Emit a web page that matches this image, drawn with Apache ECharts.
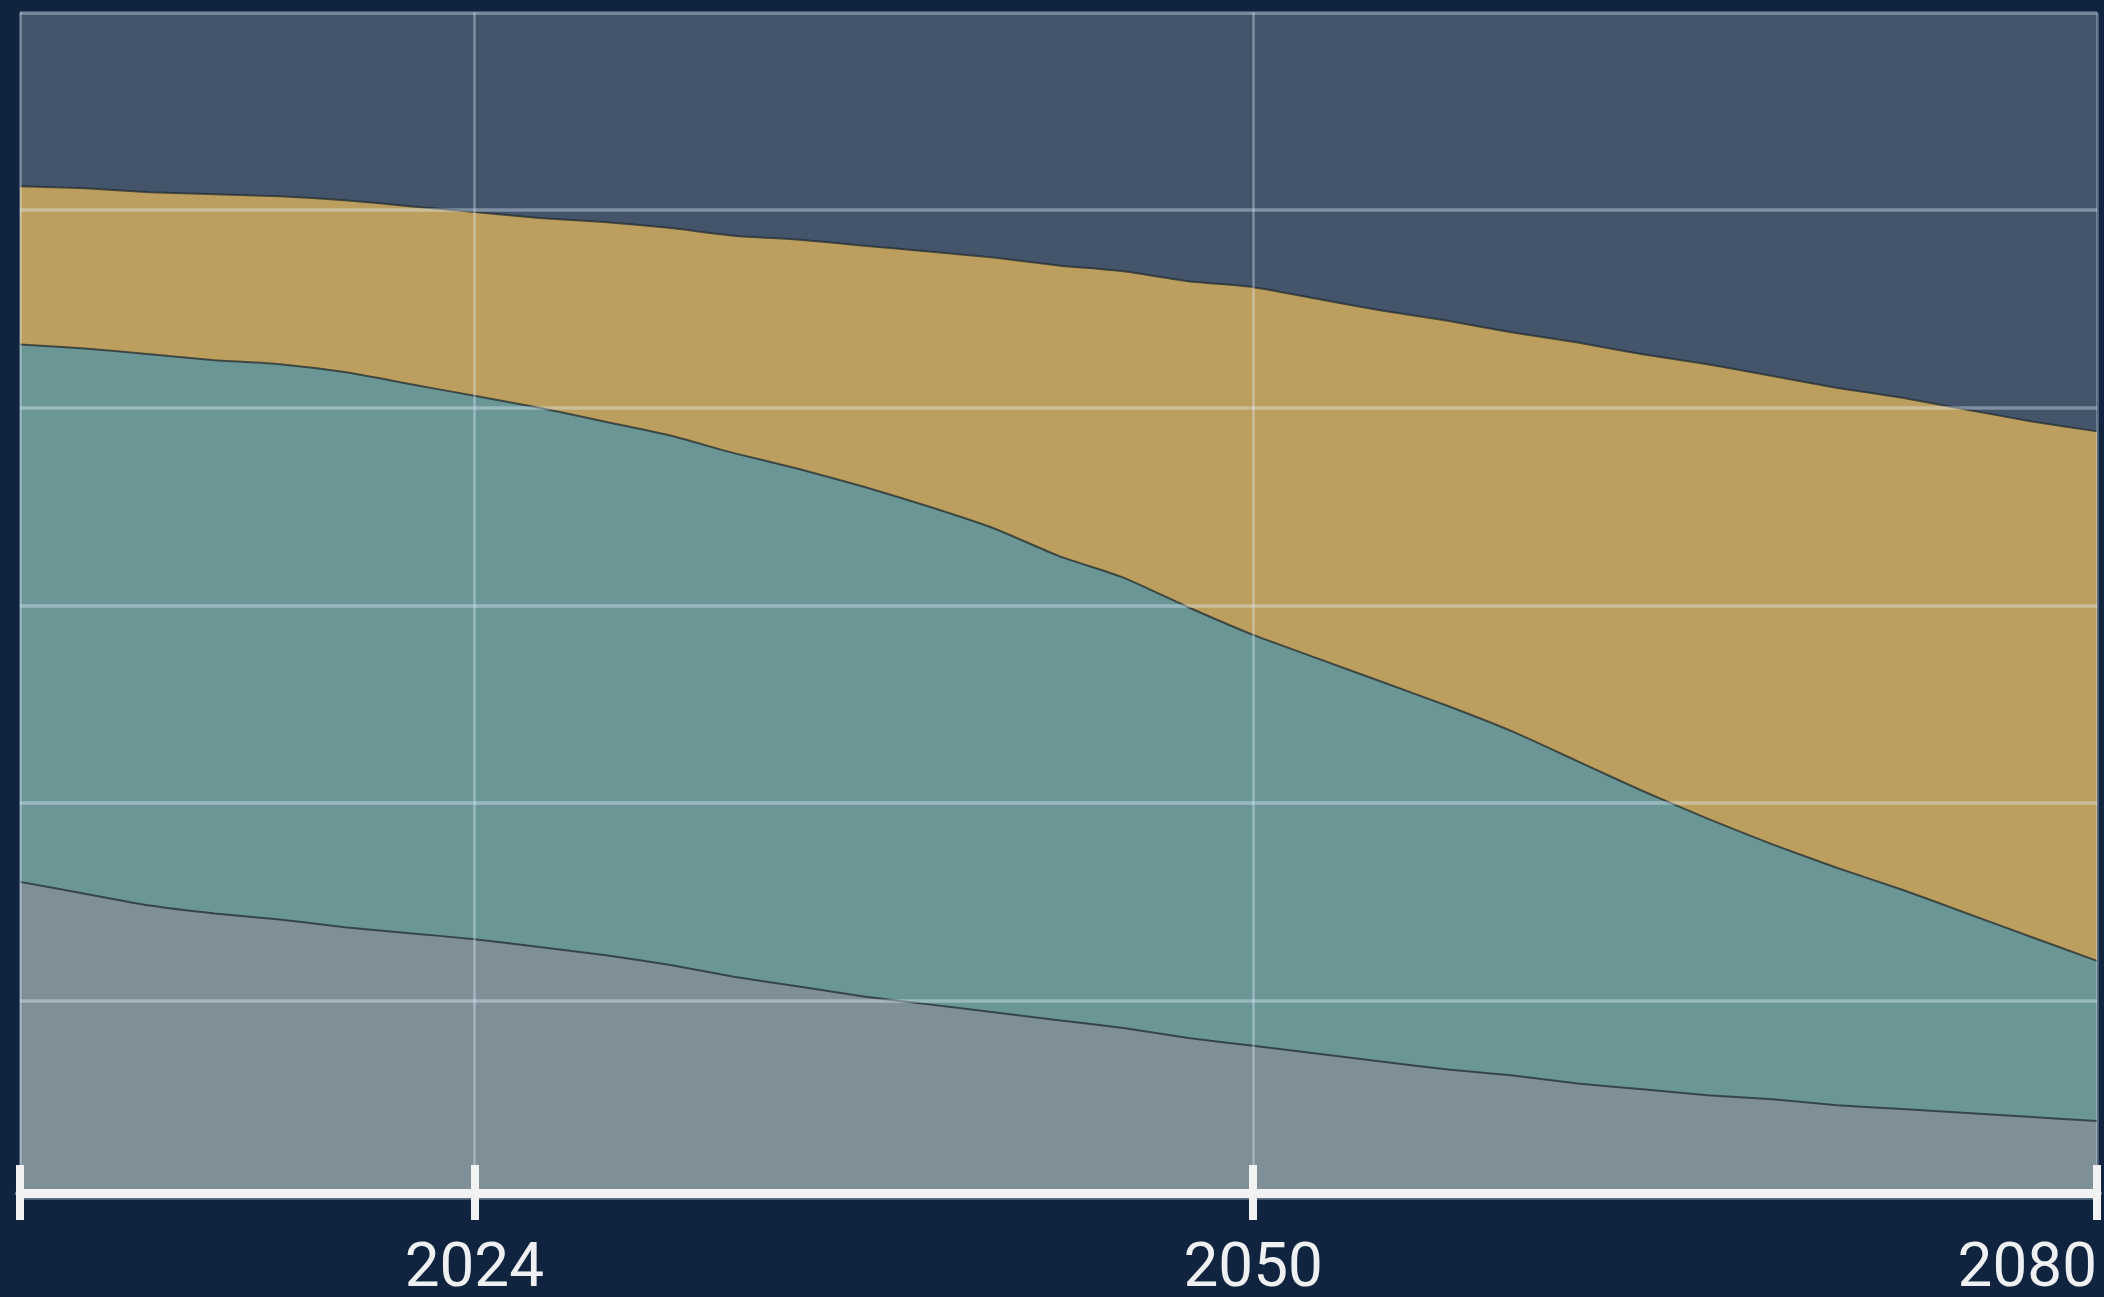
<!DOCTYPE html>
<html>
<head>
<meta charset="utf-8">
<script src="https://cdn.jsdelivr.net/npm/echarts@6/dist/echarts.min.js"></script>
<style>
  html, body { margin: 0; padding: 0; background: #10243f; }
  #chart { width: 2104px; height: 1297px; }
</style>
</head>
<body>
<div id="chart"></div>
<script>
// Sampled years (category axis)
const years = ['2010','2012','2014','2016','2018','2020','2022','2024',
  '2026','2028','2030','2033','2035','2037','2039','2041','2043','2046','2048','2050',
  '2052','2055','2057','2059','2062','2064','2066','2068','2071','2073','2075','2078','2080'];

// Labelled ticks on the x axis
const tickLabels = ['2024', '2050', '2080'];

// Bottom layer (grey)
const greyValues = [16.0, 15.4, 14.8, 14.4, 14.1, 13.7, 13.4, 13.1, 12.7, 12.3, 11.8, 11.2,
  10.7, 10.2, 9.8, 9.4, 9.0, 8.6, 8.1, 7.7, 7.3, 6.9, 6.5, 6.2, 5.8, 5.5, 5.2, 5.0, 4.7, 4.5,
  4.3, 4.1, 3.9];

// Middle layer (teal)
const tealValues = [27.2, 27.6, 27.9, 28.0, 28.1, 28.1, 27.8, 27.5, 27.3, 27.0, 26.8, 26.5,
  26.2, 25.8, 25.2, 24.5, 23.5, 22.8, 21.8, 20.8, 20.0, 19.2, 18.4, 17.4, 16.3, 15.1, 14.0,
  12.9, 12.0, 11.1, 10.1, 9.1, 8.1];

// Top layer (gold)
const goldValues = [8.0, 8.1, 8.2, 8.4, 8.5, 8.7, 9.0, 9.3, 9.6, 10.1, 10.5, 11.0, 11.6, 12.2,
  12.9, 13.7, 14.7, 15.5, 16.5, 17.6, 18.2, 18.8, 19.5, 20.2, 21.2, 22.1, 23.0, 23.7, 24.3,
  24.9, 25.5, 26.1, 26.8];

const chart = echarts.init(document.getElementById('chart'), null, { renderer: 'canvas' });

const isLabelled = (i, v) => tickLabels.indexOf(String(v)) >= 0;
const isTick = (i, v) => i === 0 || isLabelled(i, v);

const edgeLine = 'rgba(35,45,50,0.75)';

function areaSeries(name, values, color) {
  return {
    name: name,
    type: 'line',
    stack: 'total',
    data: values,
    smooth: 0.2,
    symbol: 'none',
    lineStyle: { color: edgeLine, width: 2 },
    areaStyle: { color: color, opacity: 1 },
    z: 2
  };
}

chart.setOption({
  backgroundColor: '#10243f',
  animation: false,
  grid: {
    left: 20, right: 7, top: 12.5, bottom: 99,
    outerBoundsMode: 'none',
    containLabel: false,
    show: true,
    backgroundColor: '#44546b',
    borderWidth: 0
  },
  xAxis: [
    {
      type: 'category',
      position: 'bottom',
      data: years,
      boundaryGap: false,
      offset: -5,
      z: 5,
      axisLine: { show: true, lineStyle: { color: '#f2f2f2', width: 9 } },
      axisTick: {
        show: true, inside: false, length: 27,
        interval: isTick,
        lineStyle: { color: '#f2f2f2', width: 8 }
      },
      axisLabel: {
        show: true,
        interval: isLabelled,
        margin: 46,
        color: '#eef0f2',
        fontSize: 62,
        fontFamily: 'Roboto',
        alignMaxLabel: 'right'
      },
      splitLine: {
        show: true,
        interval: isTick,
        lineStyle: { color: 'rgba(225,238,255,0.38)', width: 2.5 }
      }
    },
    {
      type: 'category',
      position: 'bottom',
      data: years,
      boundaryGap: false,
      offset: -5,
      z: 5,
      axisLine: { show: false },
      axisTick: {
        show: true, inside: true, length: 28,
        interval: isTick,
        lineStyle: { color: '#f2f2f2', width: 8 }
      },
      axisLabel: { show: false },
      splitLine: { show: false }
    }
  ],
  yAxis: {
    type: 'value',
    min: 0, max: 60, interval: 10,
    z: 4,
    axisLine: { show: false },
    axisTick: { show: false },
    axisLabel: { show: false },
    splitLine: { show: true, lineStyle: { color: 'rgba(225,238,255,0.38)', width: 3.5 } }
  },
  series: [
    areaSeries('Grey', greyValues, '#7f8f97'),
    areaSeries('Teal', tealValues, '#6a9795'),
    areaSeries('Gold', goldValues, '#bc9f5f')
  ]
});
</script>
</body>
</html>
